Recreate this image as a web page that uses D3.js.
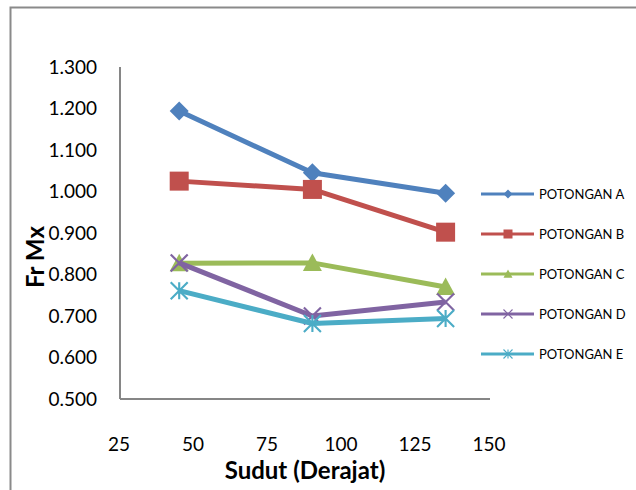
<!DOCTYPE html>
<html>
<head>
<meta charset="utf-8">
<script src="https://cdn.jsdelivr.net/npm/d3@7"></script>
<style>
  html, body { margin: 0; padding: 0; background: #fff; }
  svg { display: block; font-family: Lato, "Open Sans", sans-serif; }
</style>
</head>
<body>
<div id="chart"></div>
<script>
const angles = [45, 90, 135];
const seriesNames = ["POTONGAN A", "POTONGAN B", "POTONGAN C", "POTONGAN D", "POTONGAN E"];
const potonganA = [1.194, 1.045, 0.996];
const potonganB = [1.025, 1.005, 0.902];
const potonganC = [0.827, 0.828, 0.770];
const potonganD = [0.828, 0.700, 0.734];
const potonganE = [0.761, 0.682, 0.694];
const xTicks = [25, 50, 75, 100, 125, 150];
const yTicks = [0.5, 0.6, 0.7, 0.8, 0.9, 1.0, 1.1, 1.2, 1.3];

const colors = ["#4F81BD", "#C0504D", "#9BBB59", "#8064A2", "#4BACC6"];
const markers = ["diamond", "square", "triangle", "cross", "star"];
const values = [potonganA, potonganB, potonganC, potonganD, potonganE];

const width = 636, height = 490;
const svg = d3.select("#chart").append("svg")
  .attr("width", width).attr("height", height);

// outer frame, runs off the right and bottom edges
svg.append("rect")
  .attr("x", 10.5).attr("y", 7.5)
  .attr("width", 700).attr("height", 600)
  .attr("fill", "none").attr("stroke", "#8a8a8a").attr("stroke-width", 2);

const x = d3.scaleLinear().domain([25, 150]).range([120, 490]);
const y = d3.scaleLinear().domain([0.5, 1.3]).range([399, 67]);

// axes: plain gray lines, no tick marks
svg.append("line")
  .attr("x1", x(25)).attr("x2", x(25)).attr("y1", y(1.3)).attr("y2", y(0.5))
  .attr("stroke", "#868686").attr("stroke-width", 2);
svg.append("line")
  .attr("x1", x(25)).attr("x2", x(150)).attr("y1", y(0.5)).attr("y2", y(0.5))
  .attr("stroke", "#868686").attr("stroke-width", 2);

svg.append("g").selectAll("text")
  .data(yTicks).enter().append("text")
  .attr("x", 97).attr("y", (d) => y(d))
  .attr("dy", "0.36em").attr("text-anchor", "end")
  .attr("font-size", 19).attr("fill", "#000")
  .text((d) => d3.format(".3f")(d));

svg.append("g").selectAll("text")
  .data(xTicks).enter().append("text")
  .attr("x", (d) => x(d) - 1).attr("y", 444)
  .attr("dy", "0.36em").attr("text-anchor", "middle")
  .attr("font-size", 19).attr("fill", "#000")
  .text((d) => d);

svg.append("text")
  .attr("x", 305).attr("y", 470).attr("dy", "0.36em")
  .attr("text-anchor", "middle").attr("font-size", 24).attr("font-weight", "bold")
  .text("Sudut (Derajat)");

svg.append("text")
  .attr("transform", "translate(35,257) rotate(-90)")
  .attr("dy", "0.36em")
  .attr("text-anchor", "middle").attr("font-size", 24).attr("font-weight", "bold")
  .text("Fr Mx");

function drawMarker(g, type, color, s) {
  const h = s / 2;
  if (type === "diamond") {
    g.append("path").attr("d", `M0,${-h}L${h},0L0,${h}L${-h},0Z`).attr("fill", color);
  } else if (type === "square") {
    g.append("rect").attr("x", -h).attr("y", -h).attr("width", s).attr("height", s).attr("fill", color);
  } else if (type === "triangle") {
    g.append("path").attr("d", `M0,${-h}L${h},${h * 0.85}L${-h},${h * 0.85}Z`).attr("fill", color);
  } else if (type === "cross") {
    g.append("path").attr("d", `M${-h},${-h}L${h},${h}M${h},${-h}L${-h},${h}`)
      .attr("stroke", color).attr("stroke-width", s / 8);
  } else if (type === "star") {
    g.append("path").attr("d", `M${-h},${-h}L${h},${h}M${h},${-h}L${-h},${h}M0,${-h}L0,${h}`)
      .attr("stroke", color).attr("stroke-width", s / 8);
  }
}

const line = d3.line().x((d) => x(d[0])).y((d) => y(d[1]));

values.forEach((vals, i) => {
  const pts = angles.map((a, j) => [a, vals[j]]);
  svg.append("path")
    .attr("d", line(pts))
    .attr("fill", "none").attr("stroke", colors[i])
    .attr("stroke-width", 5).attr("stroke-linejoin", "round");
  pts.forEach((p) => {
    const g = svg.append("g").attr("transform", `translate(${x(p[0])},${y(p[1])})`);
    drawMarker(g, markers[i], colors[i], markers[i] === "cross" || markers[i] === "star" ? 17 : 19);
  });
});

// legend
const legend = svg.append("g");
seriesNames.forEach((name, i) => {
  const ly = 194 + i * 40;
  legend.append("line")
    .attr("x1", 481).attr("x2", 534).attr("y1", ly).attr("y2", ly)
    .attr("stroke", colors[i]).attr("stroke-width", 3);
  const g = legend.append("g").attr("transform", `translate(508,${ly})`);
  drawMarker(g, markers[i], colors[i], 9);
  legend.append("text")
    .attr("x", 539).attr("y", ly).attr("dy", "0.36em")
    .attr("font-size", 13).attr("fill", "#000")
    .text(name);
});
</script>
</body>
</html>
